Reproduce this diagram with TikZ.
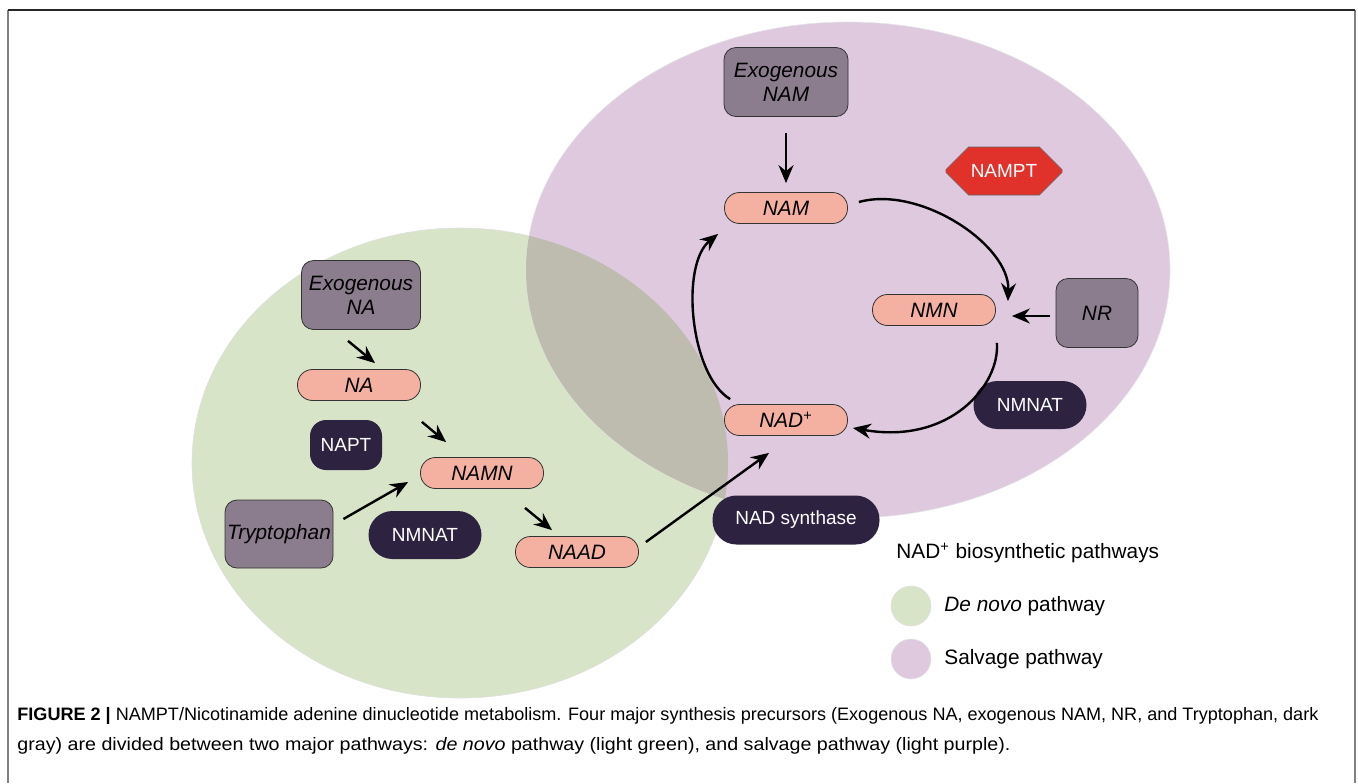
\documentclass[tikz,border=0pt]{standalone}
\usepackage{fontspec}
\setmainfont{Liberation Sans}
\usepackage{graphicx}
\usepackage{tikz}
\usetikzlibrary{arrows.meta,shapes.misc}
\usepackage{xcolor}
\definecolor{denovo}{HTML}{D7E4C8}
\definecolor{salvage}{HTML}{DEC9DF}
\definecolor{overlapc}{HTML}{BDBCAF}
\definecolor{precursor}{HTML}{8B7D8E}
\definecolor{metab}{HTML}{F4B0A1}
\definecolor{enzyme}{HTML}{2D2341}
\definecolor{namptred}{HTML}{E0312B}

\begin{document}
\begin{tikzpicture}[x=0.5pt,y=-0.5pt,
  met/.style={draw=black!80,line width=0.4pt,fill=metab,rounded corners=7.5pt,minimum width=61.5pt,minimum height=15.5pt,inner sep=0pt,font=\itshape\fontsize{10.4}{12}\selectfont},
  src/.style={draw=black!80,line width=0.4pt,fill=precursor,rounded corners=6pt,inner sep=1pt,align=center,font=\itshape\fontsize{10.4}{12}\selectfont},
  enz/.style={fill=enzyme,text=white,rounded corners=12pt,inner sep=0pt,font=\fontsize{9.5}{11}\selectfont},
  arr/.style={-{Stealth[length=9pt,width=7.5pt,inset=3pt]},line width=1.2pt},
  legend/.style={anchor=west,inner sep=0pt,font=\fontsize{10.4}{12}\selectfont}]
\useasboundingbox (0,0) rectangle (1358,783);
\draw[gray,line width=1pt] (8,10)--(8,783) (1355,10)--(1355,783);
\draw[black!85,line width=0.7pt] (8,10)--(1355,10);
\filldraw[fill=denovo,draw=black!12,line width=0.3pt] (460,463) ellipse [x radius=134pt,y radius=117.5pt];
\filldraw[fill=salvage,draw=black!10,line width=0.3pt] (848,270) ellipse [x radius=161pt,y radius=124pt];
\begin{scope}
\clip (848,270) ellipse [x radius=161pt,y radius=124pt];
\fill[overlapc] (460,463) ellipse [x radius=134pt,y radius=117.5pt];
\end{scope}
\node[src,minimum width=62pt,minimum height=34.5pt] (exonam) at (786,82) {Exogenous\\NAM};
\node[met] (nam) at (786,208) {NAM};
\node[chamfered rectangle,chamfered rectangle xsep=7pt,chamfered rectangle ysep=8pt,fill=namptred,draw=black!60,line width=0.3pt,text=white,minimum width=58pt,minimum height=24pt,inner sep=0pt,font=\fontsize{9.5}{11}\selectfont] (nampt) at (1004,171) {NAMPT};
\node[met] (nmn) at (934,310) {NMN};
\node[src,minimum width=41pt,minimum height=34.5pt] (nr) at (1097,313) {NR};
\node[met] (nad) at (786,420) {NAD\textsuperscript{+}};
\node[enz,minimum width=56.5pt,minimum height=24pt] (nmnatr) at (1030,405) {NMNAT};
\node[enz,minimum width=83.5pt,minimum height=24.5pt] (nadsyn) at (796,520) {NAD synthase};
\node[src,minimum width=59.5pt,minimum height=34.5pt] (exona) at (361,295) {Exogenous\\NA};
\node[met] (na) at (359,385) {NA};
\node[enz,rounded corners=8pt,minimum width=36pt,minimum height=25pt] (napt) at (346,445) {NAPT};
\node[met] (namn) at (482,473) {NAMN};
\node[src,minimum width=54pt,minimum height=34pt] (tryp) at (279,534) {Tryptophan};
\node[enz,minimum width=56.5pt,minimum height=24pt] (nmnatl) at (425,535) {NMNAT};
\node[met] (naad) at (577,552) {NAAD};
\draw[arr] ([shift={(0,16)}]exonam.south) -- ([shift={(0,-9)}]nam.north);
\draw[arr] ([shift={(11,-6)}]nam.east) .. controls (920,185) and (1010,245) .. ([shift={(12,7)}]nmn.north east);
\draw[arr] ([shift={(-6,3)}]nr.west) -- ([shift={(16,6)}]nmn.east);
\draw[arr] ([shift={(1,17)}]nmn.south east) .. controls (1000,385) and (950,445) .. ([shift={(5,8)}]nad.east);
\draw[arr] ([shift={(6,-5)}]nad.north west) .. controls (690,375) and (680,265) .. ([shift={(-6,10)}]nam.south west);
\draw[arr] ([shift={(-13,11)}]exona.south) -- ([shift={(16,-6)}]na.north);
\draw[arr] ([shift={(1,21)}]na.south east) -- ([shift={(26,-15)}]namn.north west);
\draw[arr] ([shift={(10,-15)}]tryp.east) -- ([shift={(-12,9)}]namn.west);
\draw[arr] ([shift={(43,19)}]namn.south) -- ([shift={(-25,-6)}]naad.north);
\draw[arr] ([shift={(7,-10)}]naad.east) -- ([shift={(-17,17)}]nad.south);
\node[legend] (legtitle) at (896,553) {NAD\textsuperscript{+} biosynthetic pathways};
\node[circle,fill=denovo,draw=black!12,line width=0.3pt,minimum size=20pt,inner sep=0pt] (legdn) at (911,606) {};
\node[legend] (legdntext) at (944,606) {\textit{De novo} pathway};
\node[circle,fill=salvage,draw=black!10,line width=0.3pt,minimum size=20pt,inner sep=0pt] (legsv) at (911,659) {};
\node[legend] (legsvtext) at (944,659) {Salvage pathway};
\node[anchor=west,inner sep=0pt,align=left,font=\fontsize{9}{15}\selectfont] (caption) at (17,731)
  {\resizebox{650.5pt}{\height}{\textbf{FIGURE 2 |} NAMPT/Nicotinamide adenine dinucleotide metabolism. Four major synthesis precursors (Exogenous NA, exogenous NAM, NR, and Tryptophan, dark}\\
   \resizebox{496.5pt}{\height}{gray) are divided between two major pathways: \textit{de novo} pathway (light green), and salvage pathway (light purple).}};
\end{tikzpicture}
\end{document}
